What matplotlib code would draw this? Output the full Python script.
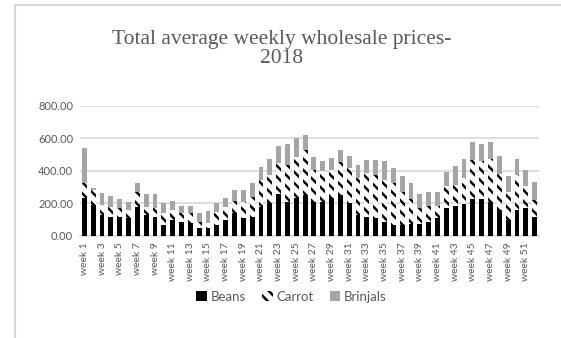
import matplotlib.pyplot as plt
from matplotlib.lines import Line2D
import numpy as np

weeks = [f"week {i}" for i in range(1, 53)]

# average weekly wholesale prices per crop (stacked)
beans = [235, 189, 127, 117, 117, 107, 178, 127, 117, 66, 96, 86, 76,
         45, 45, 66, 96, 137, 107, 117, 178, 199, 255, 209, 230, 250,
         209, 205, 234, 250, 199, 127, 117, 107, 82, 66, 64, 71, 70,
         85, 109, 172, 182, 193, 224, 224, 207, 161, 98, 161, 172, 115]
carrot = [87, 92, 62, 61, 55, 51, 93, 51, 55, 71, 62, 51, 61,
          41, 31, 82, 82, 76, 102, 123, 164, 174, 190, 226, 256, 277,
          195, 193, 170, 205, 215, 226, 266, 266, 261, 259, 207, 155, 102,
          95, 73, 132, 130, 161, 241, 235, 264, 220, 172, 214, 136, 103]
brinjals = [219, 10, 75, 68, 53, 47, 53, 76, 82, 66, 55, 45, 45,
            51, 76, 51, 54, 67, 71, 82, 79, 97, 106, 129, 113, 92,
            82, 61, 76, 72, 78, 82, 82, 92, 117, 93, 96, 101, 87,
            90, 88, 88, 116, 121, 113, 108, 107, 110, 97, 95, 95, 112]

yticks = [0, 200, 400, 600, 800]

plt.rcParams['hatch.linewidth'] = 1.8
text_col = '#595959'
grid_col = '#d9d9d9'

fig = plt.figure(figsize=(5.61, 3.38), dpi=100)
ax = fig.add_axes([80 / 561, 1 - 235.7 / 338, 459 / 561, 130 / 338])

x = np.arange(len(weeks))
b = np.array(beans)
c = np.array(carrot)
w = 0.55
ax.bar(x, b, w, color='black', label='Beans', zorder=3)
ax.bar(x, c, w, bottom=b, facecolor='white', edgecolor='black',
       hatch='\\\\\\', linewidth=0, label='Carrot', zorder=3)
ax.bar(x, brinjals, w, bottom=b + c, color='#a5a5a5', label='Brinjals', zorder=3)

ax.set_xlim(-0.5, len(weeks) - 0.5)
ax.set_ylim(0, 800)
ax.set_yticks(yticks)
ax.set_yticklabels([f"{v:.2f}" for v in yticks])
ax.set_xticks(x[::2])
ax.set_xticklabels(weeks[::2], rotation=90)
ax.tick_params(length=0, colors=text_col, pad=5)
ax.tick_params(axis='x', labelsize=7.5)
ax.tick_params(axis='y', labelsize=8)
for lab in ax.get_xticklabels() + ax.get_yticklabels():
    lab.set_fontfamily('Lato')
ax.grid(axis='y', color=grid_col, linewidth=1.2, zorder=0)
for s in ['top', 'right', 'left']:
    ax.spines[s].set_visible(False)
ax.spines['bottom'].set_color(grid_col)
ax.spines['bottom'].set_linewidth(1.2)

fig.text(0.502, 1 - 49 / 338, 'Total average weekly wholesale prices-\n2018',
         ha='center', va='center', fontsize=15.5, color=text_col,
         family='Liberation Serif', linespacing=1.05)

fig.legend(loc='center', bbox_to_anchor=(0.52, 1 - 297 / 338), ncol=3,
           frameon=False, handlelength=0.8, handleheight=0.8,
           handletextpad=0.3, columnspacing=1.2,
           prop={'family': 'Lato', 'size': 9.5}, labelcolor=text_col)

# chart frame edges
fig.add_artist(Line2D([15 / 561, 15 / 561], [0, 1 - 5 / 338], color=grid_col,
                      linewidth=1.5, transform=fig.transFigure))
fig.add_artist(Line2D([15 / 561, 1], [1 - 5 / 338, 1 - 5 / 338], color=grid_col,
                      linewidth=1.5, transform=fig.transFigure))

fig.savefig('out.png', dpi=100)
